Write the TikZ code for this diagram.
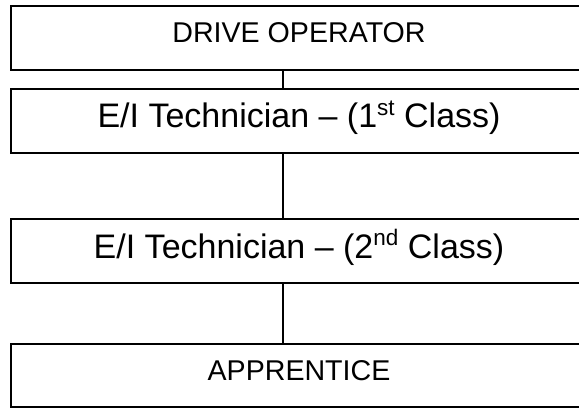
\documentclass[tikz,border=0pt]{standalone}
\usepackage{fontspec}
\setmainfont{Liberation Sans}
\newcommand{\supscr}[1]{\raisebox{0.36em}{\fontsize{22.5}{24}\selectfont #1}}
\begin{document}
\begin{tikzpicture}[x=1pt,y=-1pt,
  box/.style={draw=black, line width=1.6pt, rectangle, inner sep=0pt, minimum width=576pt},
  small/.style={inner sep=0pt, anchor=base, font=\fontsize{28.6}{32}\selectfont},
  big/.style={inner sep=0pt, anchor=base, font=\fontsize{34}{38}\selectfont},
  link/.style={draw=black, line width=1.3pt}]
\useasboundingbox (0,0) rectangle (579,408);
\clip (0,0) rectangle (579,408);
\node[box, minimum height=63.7pt] (b1) at (299,37.85) {};
\node[box, minimum height=64pt] (b2) at (299,120.7) {};
\node[box, minimum height=64pt] (b3) at (299,251.2) {};
\node[box, minimum height=63pt] (b4) at (299,375.5) {};
\node[small] (t1) at (299,42.7) {DRIVE OPERATOR};
\node[big] (t2) at (299,127.4) {E/I Technician – (1\supscr{st} Class)};
\node[big] (t3) at (299,258) {E/I Technician – (2\supscr{nd} Class)};
\node[small] (t4) at (299,380.3) {APPRENTICE};
\coordinate (cx) at (283,0);
\draw[link] (b1.south -| cx) -- (b2.north -| cx);
\draw[link] (b2.south -| cx) -- (b3.north -| cx);
\draw[link] (b3.south -| cx) -- (b4.north -| cx);
\end{tikzpicture}
\end{document}
